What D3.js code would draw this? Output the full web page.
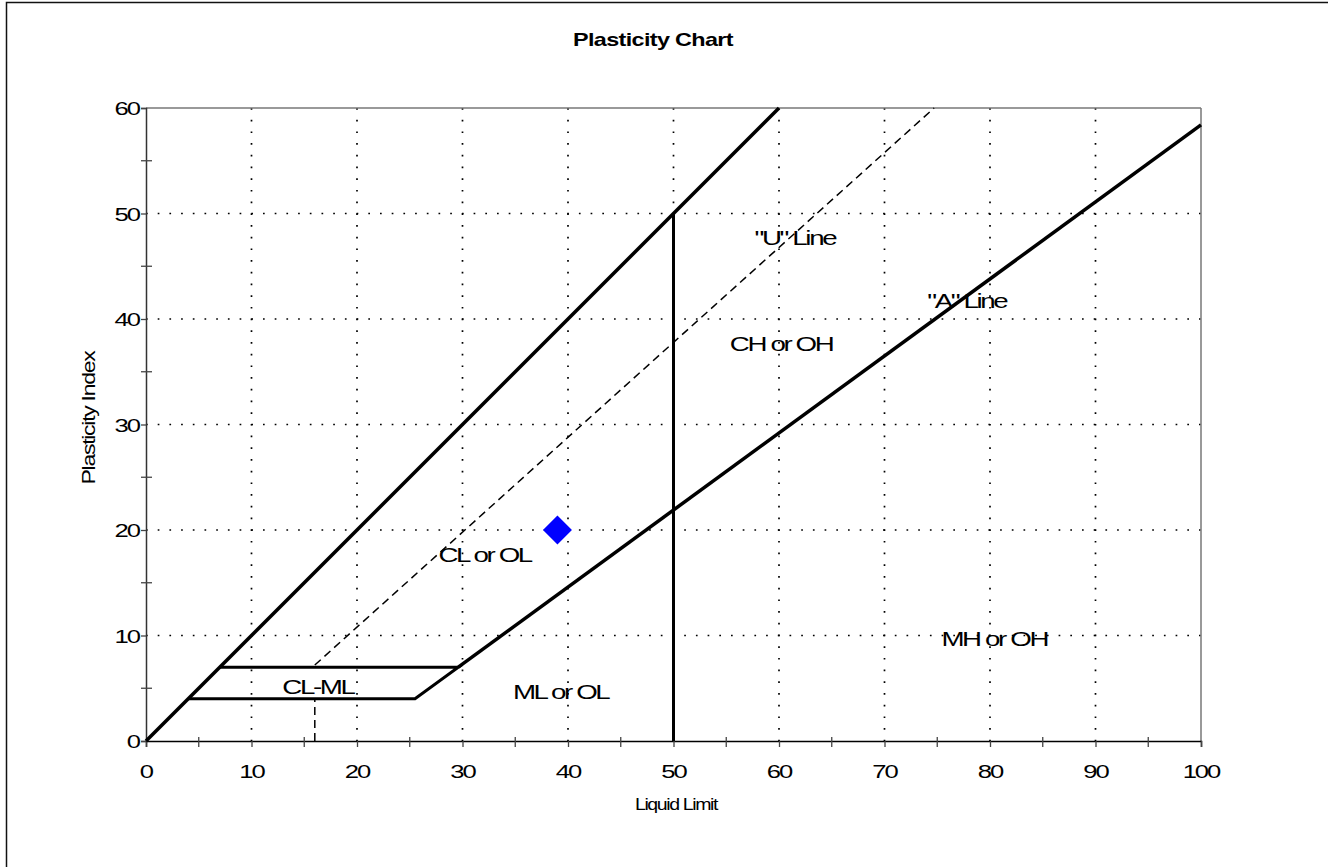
<!DOCTYPE html>
<html>
<head>
<meta charset="utf-8">
<title>Plasticity Chart</title>
<script src="https://cdn.jsdelivr.net/npm/d3@7"></script>
<style>
  html, body { margin: 0; padding: 0; background: #fff; }
  svg { display: block; }
  text { font-family: "Liberation Sans", Arial, Helvetica, sans-serif; fill: #000; }
</style>
</head>
<body>
<svg id="chart" width="1328" height="867"></svg>
<script>
// ---- Chart data (Liquid Limit vs Plasticity Index) ----
const xTicks = [0, 10, 20, 30, 40, 50, 60, 70, 80, 90, 100];
const yTicks = [0, 10, 20, 30, 40, 50, 60];
const xMinorTicks = [5, 15, 25, 35, 45, 55, 65, 75, 85, 95];
const yMinorTicks = [5, 15, 25, 35, 45, 55];

// Boundary lines, as [LL, PI] pairs
const upperLimitLine = [[0, 0], [60, 60]];
const aLine = [[29.6, 7], [100, 58.4]];
const uLine = [[16, 7.2], [74.7, 60]];
const uLineFoot = [[16, 0], [16, 4]];
const llFifty = [[50, 0], [50, 50]];
const clmlZone = [[4, 4], [25.5, 4], [29.6, 7], [7, 7]];

// Soil sample
const samples = [{ ll: 39, pi: 20 }];

// Zone and line labels: text with its [LL, PI] anchor
const zoneLabels = [
  { text: "CL-ML", ll: 16.3, pi: 4.45 },
  { text: "CL or OL", ll: 32.1, pi: 17.0 },
  { text: "ML or OL", ll: 39.3, pi: 4.0 },
  { text: "CH or OH", ll: 60.2, pi: 37.0 },
  { text: "\"U\" Line", ll: 61.5, pi: 47.0 },
  { text: "\"A\" Line", ll: 77.8, pi: 41.0 },
  { text: "MH or OH", ll: 80.4, pi: 9.0 }
];

const chartTitle = "Plasticity Chart";
const xTitle = "Liquid Limit";
const yTitle = "Plasticity Index";

// ---- Layout ----
const svg = d3.select("#chart");
const plot = { left: 146, right: 1201, top: 108, bottom: 741 };

const x = d3.scaleLinear().domain([0, 100]).range([plot.left, plot.right]);
const y = d3.scaleLinear().domain([0, 60]).range([plot.bottom, plot.top]);

// Horizontally stretched, tightly spaced text
function wideText(parent, px, py, str, opts) {
  const o = Object.assign({ size: 19, sx: 1.35, ls: -1.5, weight: "normal", anchor: "middle", rotate: 0 }, opts);
  const g = parent.append("g")
    .attr("transform", `translate(${px},${py}) rotate(${o.rotate}) scale(${o.sx},1)`);
  g.append("text")
    .attr("text-anchor", o.anchor)
    .style("font-size", o.size + "px")
    .style("font-weight", o.weight)
    .style("letter-spacing", o.ls + "px")
    .text(str);
  return g;
}

// Outer frame
svg.append("rect")
  .attr("x", 6.5).attr("y", 2.5)
  .attr("width", 1340).attr("height", 880)
  .attr("fill", "none").attr("stroke", "#111").attr("stroke-width", 1.5);

// Title
wideText(svg, 653, 46, chartTitle, { size: 18, weight: "bold", sx: 1.3, ls: -0.5 });

// Grid (dotted)
const grid = svg.append("g").attr("stroke", "#000").attr("stroke-width", 1.7)
  .attr("stroke-dasharray", "1.7,10");
grid.selectAll("line.gx")
  .data(xTicks.filter(d => d > 0 && d < 100))
  .join("line")
  .attr("x1", d => x(d)).attr("x2", d => x(d))
  .attr("y1", y(60)).attr("y2", y(0));
grid.selectAll("line.gy")
  .data(yTicks.filter(d => d > 0 && d < 60))
  .join("line")
  .attr("class", "gy")
  .attr("x1", x(0)).attr("x2", x(100))
  .attr("y1", d => y(d)).attr("y2", d => y(d));

// Plot frame: top and right in grey
svg.append("line")
  .attr("x1", x(0)).attr("x2", x(100)).attr("y1", y(60)).attr("y2", y(60))
  .attr("stroke", "#777").attr("stroke-width", 1.5);
svg.append("line")
  .attr("x1", x(100)).attr("x2", x(100)).attr("y1", y(60)).attr("y2", y(0))
  .attr("stroke", "#777").attr("stroke-width", 1.5);

// Axes
const xAxis = svg.append("g").attr("transform", `translate(0,${plot.bottom})`)
  .call(d3.axisBottom(x).tickValues(xTicks).tickSize(6).tickFormat(""));
const yAxis = svg.append("g").attr("transform", `translate(${plot.left},0)`)
  .call(d3.axisLeft(y).tickValues(yTicks).tickSize(5).tickFormat(""));
xAxis.select(".domain").attr("stroke", "#000").attr("stroke-width", 1.5);
yAxis.select(".domain").attr("stroke", "#333").attr("stroke-width", 1.5);
xAxis.selectAll(".tick line").attr("stroke", "#444").attr("stroke-width", 1.3);
yAxis.selectAll(".tick line").attr("stroke", "#444").attr("stroke-width", 1.3);

// Minor ticks crossing the axes
svg.append("g").selectAll("line")
  .data(xMinorTicks).join("line")
  .attr("x1", d => x(d)).attr("x2", d => x(d))
  .attr("y1", plot.bottom - 4).attr("y2", plot.bottom + 6)
  .attr("stroke", "#444").attr("stroke-width", 1.3);
svg.append("g").selectAll("line")
  .data(yMinorTicks).join("line")
  .attr("x1", plot.left - 5).attr("x2", plot.left + 6)
  .attr("y1", d => y(d)).attr("y2", d => y(d))
  .attr("stroke", "#444").attr("stroke-width", 1.3);

// Tick labels
xTicks.forEach(t => wideText(svg, x(t), 778, String(t), { size: 19 }));
yTicks.forEach(t => wideText(svg, 139, y(t) + 7, String(t), { size: 19, anchor: "end" }));

// Axis titles
wideText(svg, 676, 810, xTitle, { size: 17, sx: 1.15, ls: -1.2 });
wideText(svg, 95, 418, yTitle, { size: 18, sx: 1.28, ls: -1, rotate: -90 });

// Boundary lines
const line = d3.line().x(d => x(d[0])).y(d => y(d[1]));
const bounds = svg.append("g").attr("fill", "none").attr("stroke", "#000");

bounds.append("path").datum(upperLimitLine).attr("d", line).attr("stroke-width", 3.5);
bounds.append("path").datum(aLine).attr("d", line).attr("stroke-width", 3.5);
bounds.append("path").datum(llFifty).attr("d", line).attr("stroke-width", 3);
bounds.append("path").datum(clmlZone).attr("d", line).attr("stroke-width", 3)
  .attr("stroke-linejoin", "miter");
bounds.append("path").datum(uLine).attr("d", line).attr("stroke-width", 1.5)
  .attr("stroke-dasharray", "8,5");
bounds.append("path").datum(uLineFoot).attr("d", line).attr("stroke-width", 1.5)
  .attr("stroke-dasharray", "8,5");

// Zone labels
zoneLabels.forEach(l => wideText(svg, x(l.ll), y(l.pi), l.text, { size: 21, sx: 1.32, ls: -1.8 }));

// Sample point
svg.append("g").selectAll("path")
  .data(samples).join("path")
  .attr("transform", d => `translate(${x(d.ll)},${y(d.pi)}) rotate(45)`)
  .attr("d", d3.symbol().type(d3.symbolSquare).size(420))
  .attr("fill", "#0000ff");
</script>
</body>
</html>
